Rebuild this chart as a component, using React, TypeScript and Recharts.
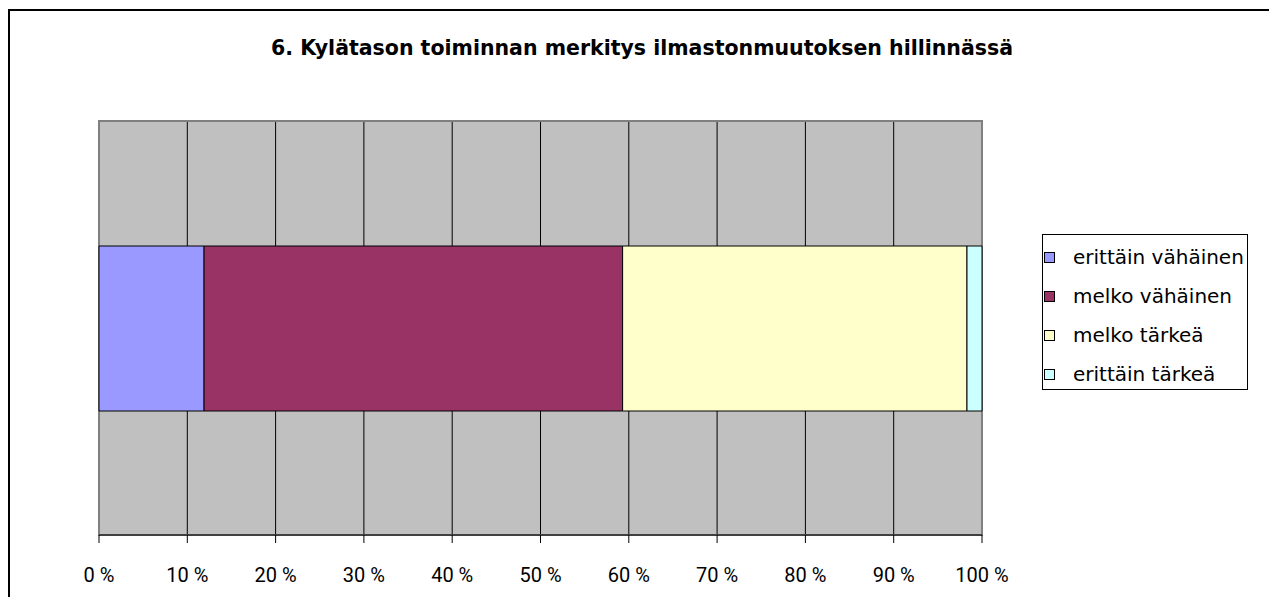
import React from "react"
import {
  BarChart,
  Bar,
  XAxis,
  YAxis,
  CartesianGrid,
  Legend,
  ReferenceArea,
} from "recharts"

const title = "6. Kylätason toiminnan merkitys ilmastonmuutoksen hillinnässä"
const categories = ["erittäin vähäinen", "melko vähäinen", "melko tärkeä", "erittäin tärkeä"]
const shares = [11.9, 47.4, 39.0, 1.7]
const colors = ["#9999FF", "#993366", "#FFFFCC", "#CCFFFF"]
const ticks = [0, 10, 20, 30, 40, 50, 60, 70, 80, 90, 100]

const row: Record<string, string | number> = { name: "6" }
shares.forEach((v, i) => {
  row[`s${i}`] = v
})
const data = [row]

// legend kept in series order (recharts sorts the payload by name)
function LegendBox() {
  return (
    <div
      style={{
        width: 206,
        height: 156,
        boxSizing: "border-box",
        border: "1px solid #000",
        paddingTop: 3,
        background: "#fff",
        fontFamily: "'DejaVu Sans', sans-serif",
        fontSize: 20,
        color: "#000",
      }}
    >
      {categories.map((c, i) => (
        <div key={c} style={{ height: 39, lineHeight: "39px", position: "relative", whiteSpace: "nowrap" }}>
          <span
            style={{
              position: "absolute",
              left: 1,
              top: 14,
              width: 11,
              height: 11,
              boxSizing: "border-box",
              border: "1px solid #000",
              background: colors[i],
            }}
          />
          <span style={{ position: "absolute", left: 30 }}>{c}</span>
        </div>
      ))}
    </div>
  )
}

export default function App() {
  return (
    <div
      style={{
        position: "fixed",
        left: 0,
        top: 0,
        width: 1269,
        height: 597,
        overflow: "hidden",
        background: "#fff",
      }}
    >
      {/* chart frame, cut off by the window on the right and bottom */}
      <div
        style={{
          position: "absolute",
          left: 8,
          top: 9,
          width: 1400,
          height: 700,
          borderLeft: "2px solid #000",
          borderTop: "2px solid #000",
        }}
      />
      <div
        style={{
          position: "absolute",
          left: 8,
          top: 38,
          width: 1268,
          textAlign: "center",
          fontFamily: "'DejaVu Sans', sans-serif",
          fontWeight: "bold",
          fontSize: 20.5,
          lineHeight: "20px",
          color: "#000",
          whiteSpace: "nowrap",
        }}
      >
        {title}
      </div>
      <div style={{ position: "absolute", left: 8, top: 8 }}>
        <BarChart
          width={1261}
          height={589}
          data={data}
          layout="vertical"
          margin={{ top: 113, right: 287, bottom: 0, left: 91 }}
        >
          <CartesianGrid horizontal={false} stroke="#000" fill="#C0C0C0" fillOpacity={1} />
          <ReferenceArea x1={0} x2={100} fill="none" stroke="#808080" strokeWidth={2} ifOverflow="visible" />
          <XAxis
            type="number"
            domain={[0, 100]}
            ticks={ticks}
            interval={0}
            height={62}
            tickFormatter={(v) => `${v} %`}
            axisLine={{ stroke: "#000" }}
            tickLine={{ stroke: "#000" }}
            tickSize={8}
            tickMargin={25}
            tick={{ fill: "#000", fontSize: 20, fontFamily: "Roboto, sans-serif" }}
          />
          <YAxis type="category" dataKey="name" hide />
          <Legend
            layout="vertical"
            align="center"
            verticalAlign="middle"
            content={<LegendBox />}
            wrapperStyle={{ position: "absolute", left: 1034, top: 226, width: 206, height: 156 }}
          />
          {categories.map((c, i) => (
            <Bar
              key={c}
              dataKey={`s${i}`}
              name={c}
              stackId="a"
              fill={colors[i]}
              stroke="#000"
              strokeWidth={1}
              barSize={165}
              isAnimationActive={false}
            />
          ))}
        </BarChart>
      </div>
    </div>
  )
}
